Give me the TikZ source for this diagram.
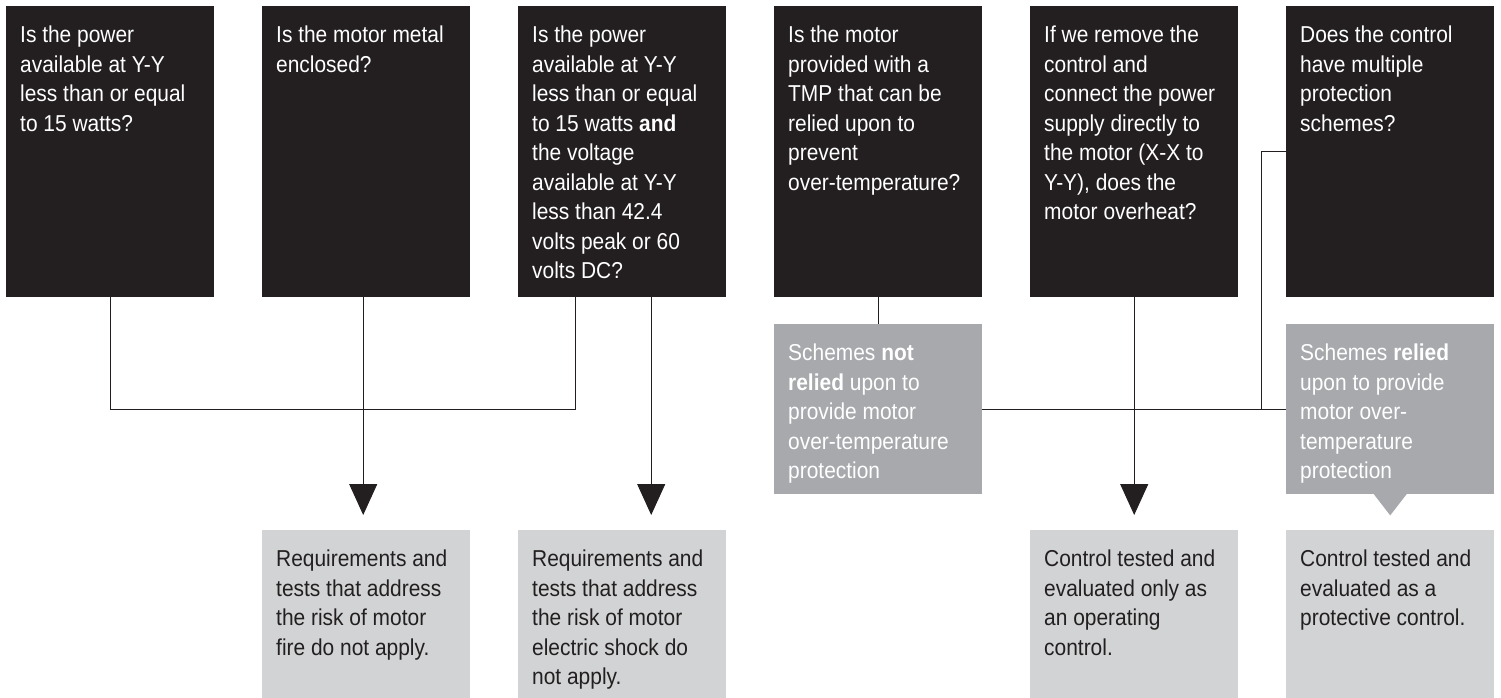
\documentclass[tikz,border=0pt]{standalone}
\usepackage{fontspec}
\setmainfont{Liberation Sans}[FakeStretch=0.91]
\usetikzlibrary{arrows.meta,calc}
\definecolor{ink}{HTML}{231F20}
\definecolor{dgray}{HTML}{A7A9AC}
\definecolor{lgray}{HTML}{D1D3D4}
\begin{document}
\begin{tikzpicture}[x=1pt,y=-1pt,
  qbox/.style={fill=ink, draw=none, minimum width=208pt, minimum height=291pt, inner sep=0pt, anchor=north west},
  sbox/.style={fill=dgray, draw=none, minimum width=208pt, minimum height=170pt, inner sep=0pt, anchor=north west},
  rbox/.style={fill=lgray, draw=none, minimum width=208pt, minimum height=168pt, inner sep=0pt, anchor=north west},
  txt/.style={anchor=north west, inner sep=0pt, align=left, font=\fontsize{23}{29.5}\selectfont},
  conn/.style={draw=ink, line width=1pt},
  arr/.style={conn, -{Triangle[width=28pt,length=31pt]}, shorten >=15pt}]
\useasboundingbox (0,0) rectangle (1501,698);
% question boxes
\node[qbox] (b1) at (6,6) {};
\node[qbox] (b2) at (262,6) {};
\node[qbox] (b3) at (518,6) {};
\node[qbox] (b4) at (774,6) {};
\node[qbox] (b5) at (1030,6) {};
\node[qbox] (b6) at (1286,6) {};
% scheme boxes
\node[sbox] (g4) at (774,324) {};
\node[sbox] (g6) at (1286,324) {};
\fill[dgray] ([xshift=-17pt,yshift=1pt]g6.south) -- ([xshift=17pt,yshift=1pt]g6.south) -- ([yshift=-21pt]g6.south) -- cycle;
% result boxes
\node[rbox] (r2) at (262,530) {};
\node[rbox] (r3) at (518,530) {};
\node[rbox] (r5) at (1030,530) {};
\node[rbox] (r6) at (1286,530) {};
% texts
\node[txt, text=white] (t1) at ($(b1.north west)+(14,20)$) {Is the power\\available at Y-Y\\less than or equal\\to 15 watts?};
\node[txt, text=white] (t2) at ($(b2.north west)+(14,20)$) {Is the motor metal\\enclosed?};
\node[txt, text=white] (t3) at ($(b3.north west)+(14,20)$) {Is the power\\available at Y-Y\\less than or equal\\to 15 watts \textbf{and}\\the voltage\\available at Y-Y\\less than 42.4\\volts peak or 60\\volts DC?};
\node[txt, text=white] (t4) at ($(b4.north west)+(14,20)$) {Is the motor\\provided with a\\TMP that can be\\relied upon to\\prevent\\over-temperature?};
\node[txt, text=white] (t5) at ($(b5.north west)+(14,20)$) {If we remove the\\control and\\connect the power\\supply directly to\\the motor (X-X to\\Y-Y), does the\\motor overheat?};
\node[txt, text=white] (t6) at ($(b6.north west)+(14,20)$) {Does the control\\have multiple\\protection\\schemes?};
\node[txt, text=white] (tg4) at ($(g4.north west)+(14,20)$) {Schemes \textbf{not}\\\textbf{relied} upon to\\provide motor\\over-temperature\\protection};
\node[txt, text=white] (tg6) at ($(g6.north west)+(14,20)$) {Schemes \textbf{relied}\\upon to provide\\motor over-\\temperature\\protection};
\node[txt, text=ink] (tr2) at ($(r2.north west)+(14,20)$) {Requirements and\\tests that address\\the risk of motor\\fire do not apply.};
\node[txt, text=ink] (tr3) at ($(r3.north west)+(14,20)$) {Requirements and\\tests that address\\the risk of motor\\electric shock do\\not apply.};
\node[txt, text=ink] (tr5) at ($(r5.north west)+(14,20)$) {Control tested and\\evaluated only as\\an operating\\control.};
\node[txt, text=ink] (tr6) at ($(r6.north west)+(14,20)$) {Control tested and\\evaluated as a\\protective control.};
% connectors
\draw[conn] (b1.south) -- ++(0,112) -| ([xshift=-47pt]b3.south);
\draw[arr] ([xshift=-3pt]b2.south) -- ([xshift=-3pt]r2.north);
\draw[arr] ([xshift=29pt]b3.south) -- ([xshift=29pt]r3.north);
\draw[conn] (b4.south) -- (g4.north);
\draw[conn] (g4.east) -- (g6.west);
\draw[conn] (b6.west) -- ++(-25,0) |- (g6.west);
\draw[arr] (b5.south) -- (r5.north);
\end{tikzpicture}
\end{document}
